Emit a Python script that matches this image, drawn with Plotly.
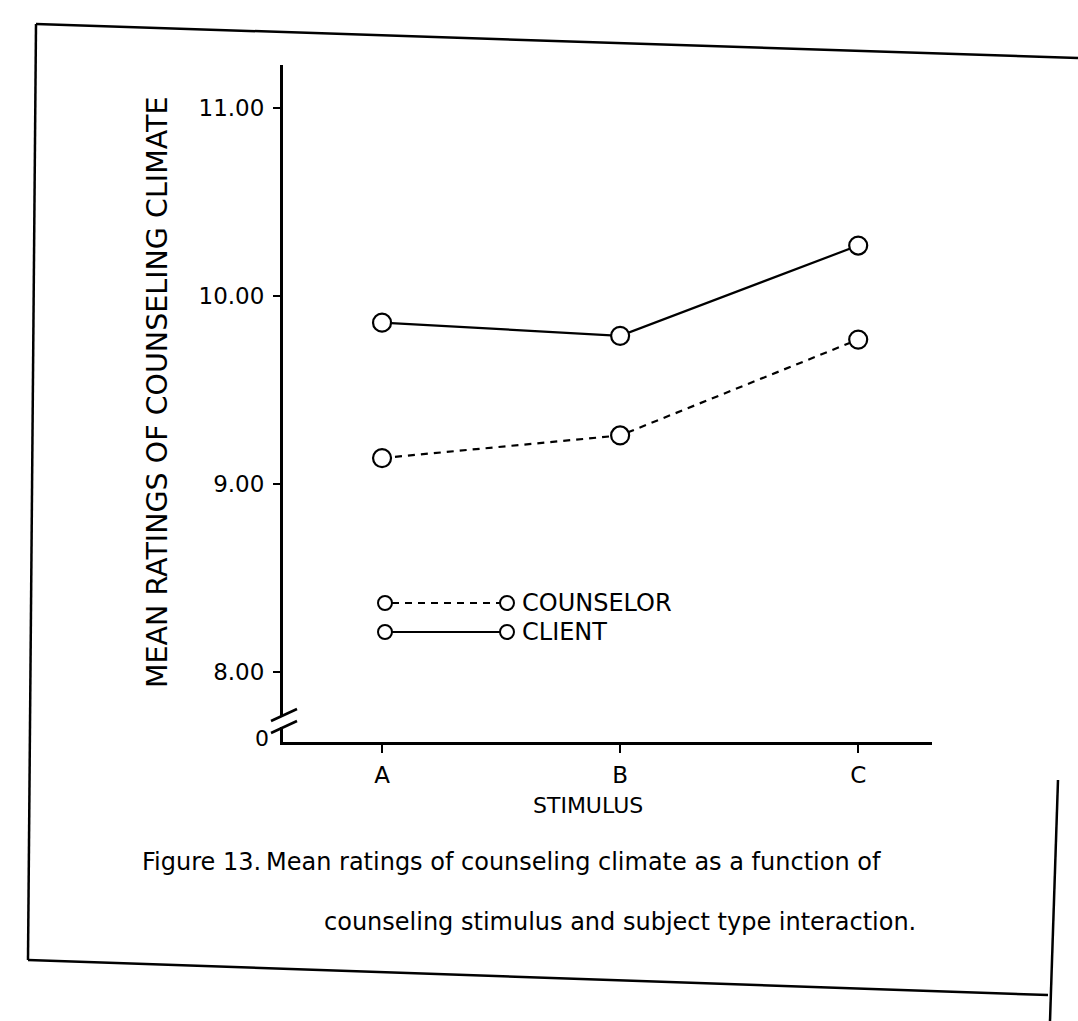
import plotly.graph_objects as go

# ---- data ----
categories = ["A", "B", "C"]
client = [9.86, 9.79, 10.27]
counselor = [9.14, 9.26, 9.77]
y_tick_vals = [8, 9, 10, 11]
y_tick_text = ["8.00", "9.00", "10.00", "11.00"]
series_names = ["COUNSELOR", "CLIENT"]

W, H = 1078, 1021
L, R, T, B = 283, 932, 65, 742  # plot area in pixels


def px(x):
    return (x - L) / (R - L)


def py(y):
    return (B - y) / (B - T)


xs = list(range(len(categories)))
marker = dict(symbol="circle", size=18, color="white", line=dict(color="black", width=2.2))

fig = go.Figure()
fig.add_trace(go.Scatter(x=xs, y=client, mode="lines+markers", name=series_names[1],
                         line=dict(color="black", width=2.2), marker=marker, showlegend=False))
fig.add_trace(go.Scatter(x=xs, y=counselor, mode="lines+markers", name=series_names[0],
                         line=dict(color="black", width=2.2, dash="7px,6px"), marker=marker,
                         showlegend=False))

lab_font = dict(family="DejaVu Sans", size=23, color="black")

fig.update_layout(
    width=W, height=H, autosize=False,
    margin=dict(l=L, r=W - R, t=T, b=H - B),
    paper_bgcolor="white", plot_bgcolor="white",
    font=lab_font,
    xaxis=dict(range=[-0.416, 2.31], tickvals=xs, ticktext=categories,
               showline=True, linecolor="black", linewidth=3,
               ticks="outside", ticklen=8, tickwidth=2, tickcolor="black",
               showgrid=False, zeroline=False, ticklabelstandoff=2,
               tickfont=lab_font),
    yaxis=dict(range=[7.63, 11.23], tickvals=y_tick_vals, ticktext=y_tick_text,
               showline=True, linecolor="black", linewidth=3,
               ticks="outside", ticklen=7, tickwidth=2, tickcolor="black",
               showgrid=False, zeroline=False, ticklabelstandoff=4,
               tickfont=lab_font),
)

shapes = []
annotations = []


def note(x, y, text, size, xa="center", ya="middle", angle=0, family="DejaVu Sans"):
    annotations.append(dict(xref="paper", yref="paper", x=px(x), y=py(y), text=text,
                            xanchor=xa, yanchor=ya, textangle=angle, showarrow=False,
                            font=dict(family=family, size=size, color="black")))


# axis titles
note(157, 392, "MEAN RATINGS OF COUNSELING CLIMATE", 28.5, angle=-90)
note(588, 805, "STIMULUS", 22)

# axis break and "0"
shapes.append(dict(type="rect", xref="paper", yref="paper", x0=px(278), x1=px(290),
                   y0=py(727), y1=py(716), fillcolor="white", line=dict(width=0)))
for yb in (715, 727):
    shapes.append(dict(type="line", xref="paper", yref="paper", x0=px(271), y0=py(yb + 6),
                       x1=px(297), y1=py(yb - 6), line=dict(color="black", width=2.5)))
note(262, 738, "0", 22)

# custom legend (line sample with circles at both ends)
leg_rows = [(series_names[0], 603, "7px,6px"), (series_names[1], 632, "solid")]
for name, yy, dash in leg_rows:
    shapes.append(dict(type="line", xref="paper", yref="paper", x0=px(392), x1=px(500),
                       y0=py(yy), y1=py(yy), line=dict(color="black", width=2.2, dash=dash)))
    for cx in (385, 507):
        shapes.append(dict(type="circle", xref="paper", yref="paper",
                           x0=px(cx - 7), x1=px(cx + 7), y0=py(yy + 7), y1=py(yy - 7),
                           fillcolor="white", line=dict(color="black", width=2)))
    note(520, yy, name, 24, xa="left")

# caption
note(140, 862, "Figure 13.", 24, xa="left")
note(264, 862, "Mean ratings of counseling climate as a function of", 24, xa="left")
note(322, 922, "counseling stimulus and subject type interaction.", 24, xa="left")

# page frame (scan is slightly skewed)
frame = [((36, 24), (1078, 58)), ((36, 24), (28, 960)), ((28, 960), (1048, 995)),
         ((1058, 780), (1050, 1021))]
for (x0, y0), (x1, y1) in frame:
    shapes.append(dict(type="line", xref="paper", yref="paper", x0=px(x0), y0=py(y0),
                       x1=px(x1), y1=py(y1), line=dict(color="black", width=2.5)))

fig.update_layout(shapes=shapes, annotations=annotations)
fig.write_html("out.html", config={"displayModeBar": False},
               post_script="document.body.style.margin='0px';")
